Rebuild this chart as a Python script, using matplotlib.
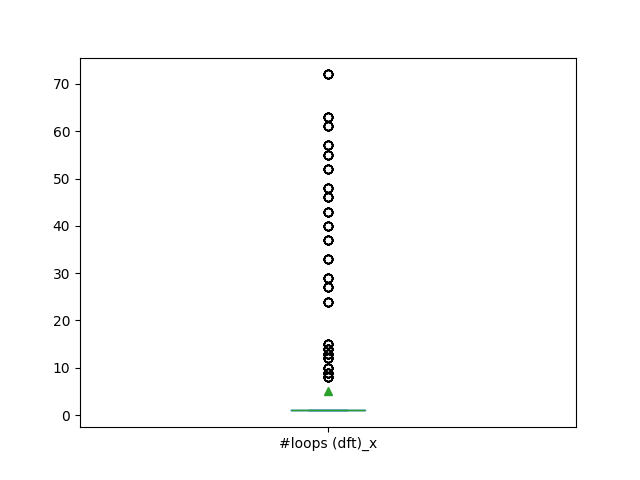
import matplotlib
matplotlib.use("Agg")
import matplotlib.pyplot as plt
import numpy as np
import pandas as pd

column_name = "#loops (dft)_x"
# distinct values and how many times each occurs
values = [1, 8, 9, 10, 12, 13, 14, 15, 24, 27, 29, 33, 37, 40, 43, 46, 48, 52, 55, 57, 61, 63, 72]
counts = [1645, 10, 10, 10, 10, 10, 10, 10, 10, 10, 10, 10, 10, 10, 10, 10, 10, 10, 10, 10, 10, 10, 10]

data = np.repeat(values, counts)
df = pd.DataFrame({column_name: data})

fig, ax = plt.subplots(figsize=(6.4, 4.8), dpi=100)
df.plot.box(ax=ax, showmeans=True)
fig.savefig("out.png")
